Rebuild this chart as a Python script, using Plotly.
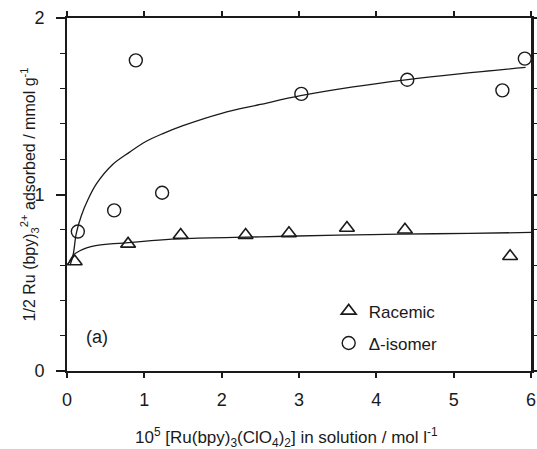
import plotly.graph_objects as go

# ---- data ----
rac_x = [0.10, 0.79, 1.47, 2.31, 2.87, 3.62, 4.37, 5.73]
rac_y = [0.62, 0.72, 0.77, 0.77, 0.78, 0.81, 0.80, 0.65]

delta_x = [0.14, 0.61, 0.89, 1.23, 3.03, 4.40, 5.63, 5.92]
delta_y = [0.79, 0.91, 1.76, 1.01, 1.57, 1.65, 1.59, 1.77]

# fitted curves
rac_fit_x = [0.03, 0.08, 0.16, 0.37, 0.72, 1.50, 2.50, 3.50, 4.30, 5.20, 6.00]
rac_fit_y = [0.62, 0.655, 0.68, 0.71, 0.725, 0.75, 0.76, 0.77, 0.775, 0.78, 0.785]

delta_fit_x = [0.04, 0.08, 0.12, 0.185, 0.27, 0.38, 0.59, 0.81, 1.02, 1.24, 1.50, 2.00, 2.50, 3.02, 3.70, 4.38, 5.10, 5.93]
delta_fit_y = [0.60, 0.66, 0.78, 0.88, 0.97, 1.06, 1.17, 1.24, 1.30, 1.345, 1.39, 1.46, 1.51, 1.56, 1.61, 1.65, 1.685, 1.72]

x_ticks = [0, 1, 2, 3, 4, 5, 6]
y_ticks = [0, 1, 2]

FONT = "Liberation Sans, Arial, Helvetica, sans-serif"
INK = "#1a1a1a"

fig = go.Figure()

fig.add_trace(go.Scatter(x=rac_fit_x, y=rac_fit_y, mode="lines",
                         line=dict(color=INK, width=1.3, shape="spline", smoothing=1.0),
                         showlegend=False, hoverinfo="skip"))
fig.add_trace(go.Scatter(x=delta_fit_x, y=delta_fit_y, mode="lines",
                         line=dict(color=INK, width=1.3, shape="spline", smoothing=1.0),
                         showlegend=False, hoverinfo="skip"))

fig.add_trace(go.Scatter(x=rac_x, y=rac_y, mode="markers", name="Racemic",
                         legendgroup="a",
                         marker=dict(symbol="triangle-up-open", size=13,
                                     color=INK, line=dict(width=1.6, color=INK)),
                         cliponaxis=False))
fig.add_trace(go.Scatter(x=delta_x, y=delta_y, mode="markers", name="Δ-isomer",
                         legendgroup="b",
                         marker=dict(symbol="circle-open", size=13,
                                     color=INK, line=dict(width=1.4, color=INK)),
                         cliponaxis=False))

# empty trace so the right-hand frame axis exists
fig.add_trace(go.Scatter(x=[], y=[], yaxis="y2", showlegend=False, hoverinfo="skip"))

fig.add_annotation(x=0.39, y=0.19, xref="x", yref="y", text="(a)",
                   showarrow=False, font=dict(size=18, color=INK, family=FONT))

# axis titles
fig.add_annotation(xref="paper", yref="paper", x=0.474, y=-0.187,
                   xanchor="center", yanchor="middle", showarrow=False,
                   text="10<sup>5</sup> [Ru(bpy)<sub>3</sub>(ClO<sub>4</sub>)<sub>2</sub>] in solution / mol l<sup>-1</sup>",
                   font=dict(size=17, color=INK, family=FONT))
fig.add_annotation(xref="paper", yref="paper", x=-0.082, y=0.50,
                   xanchor="center", yanchor="middle", showarrow=False, textangle=-90,
                   text="1/2 Ru (bpy)<sub>3</sub><sup>2+</sup> adsorbed / mmol g<sup>-1</sup>",
                   font=dict(size=16, color=INK, family=FONT))

fig.update_layout(
    width=537, height=449,
    margin=dict(l=67, r=6, t=18, b=78, autoexpand=False),
    paper_bgcolor="white", plot_bgcolor="white",
    font=dict(family=FONT, color=INK),
    legend=dict(x=0.564, y=0.22, xanchor="left", yanchor="top",
                bgcolor="rgba(0,0,0,0)", font=dict(size=17, color=INK),
                traceorder="grouped", tracegroupgap=7),
    yaxis2=dict(overlaying="y", side="right", anchor="x", range=[0, 2],
                tickmode="array", tickvals=y_ticks, showticklabels=False,
                showgrid=False, zeroline=False, automargin=False,
                showline=True, linewidth=3, linecolor=INK,
                ticks="outside", ticklen=6, tickwidth=1.5, tickcolor=INK,
                minor=dict(dtick=0.2, ticks="outside", ticklen=4, tickwidth=1.2, tickcolor=INK)),
)

fig.update_xaxes(range=[0, 6], tickmode="array", tickvals=x_ticks,
                 ticktext=[str(v) for v in x_ticks], automargin=False,
                 showgrid=False, zeroline=False,
                 showline=True, linewidth=2, linecolor=INK, mirror="ticks",
                 ticks="outside", ticklen=5, tickwidth=1.5, tickcolor=INK,
                 ticklabelstandoff=6,
                 tickfont=dict(size=18, color=INK))

fig.update_layout(yaxis=dict(range=[0, 2], tickmode="array", tickvals=y_ticks,
                 ticktext=[str(v) for v in y_ticks], automargin=False,
                 showgrid=False, zeroline=False,
                 showline=True, linewidth=2, linecolor=INK, mirror=False,
                 ticks="outside", ticklen=9, tickwidth=1.5, tickcolor=INK,
                 ticklabelstandoff=8,
                 minor=dict(dtick=0.2, ticks="outside", ticklen=5, tickwidth=1.2, tickcolor=INK),
                 tickfont=dict(size=18, color=INK)))

fig.write_html("out.html", config={"displayModeBar": False},
               post_script="document.body.style.margin='0px';document.body.style.padding='0px';")
